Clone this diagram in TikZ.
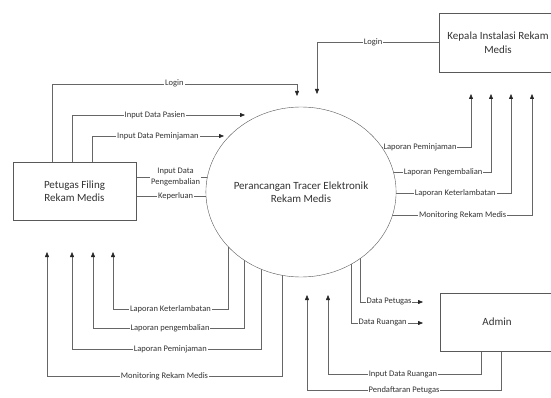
\documentclass[tikz,border=0pt]{standalone}
\usepackage{fontspec}
\setmainfont{Carlito}
\usetikzlibrary{shapes.geometric,arrows.meta,backgrounds}

\tikzset{
  entity/.style={draw=black!65, fill=white, text=black!80, align=center, inner sep=0pt,
    font=\fontsize{11}{13.5}\selectfont},
  flow/.style={draw=black!60, -{Triangle[length=5pt,width=4pt,color=black!85]}},
  lbl/.style={fill=white, text=black!80, inner sep=1pt, align=center,
    font=\fontsize{8.5}{10.5}\selectfont}
}

\begin{document}
\begin{tikzpicture}[x=1pt,y=-1pt]
  % Canvas (pixel grid of the reference, y downwards)
  \clip (0,0) rectangle (551,398);

  % Process and external entities
  \node[entity, ellipse, minimum width=152pt, minimum height=170pt] (proc) at (301,192)
    {Perancangan Tracer Elektronik\\Rekam Medis};
  \node[entity, minimum width=123pt, minimum height=58pt] (petugas) at (74.5,191)
    {Petugas Filing\\Rekam Medis};
  \node[entity, minimum width=118pt, minimum height=59pt] (kepala) at (498,42.5)
    {Kepala Instalasi Rekam\\Medis};
  \node[entity, minimum width=114pt, minimum height=58pt] (admin) at (497,322) {Admin};

  % Free ends of the flows (arrow tips)
  \coordinate (tLogP) at (297,96);
  \coordinate (tPasien) at (245,115);
  \coordinate (tPinjam) at (224,136);
  \coordinate (tKembali) at (215,177);
  \coordinate (tPerlu) at (215,196);
  \coordinate (tKetP) at (113,252);
  \coordinate (tKemP) at (93,252);
  \coordinate (tPinP) at (72,252);
  \coordinate (tMonP) at (47,252);
  \coordinate (tLogK) at (317,94);
  \coordinate (tPinK) at (471,94);
  \coordinate (tKemK) at (491,94);
  \coordinate (tKetK) at (511,94);
  \coordinate (tMonK) at (532,94);
  \coordinate (tDPet) at (423,302);
  \coordinate (tDRng) at (423,323);
  \coordinate (tIDR) at (328,295);
  \coordinate (tDaftar) at (307,295);

  \begin{pgfonlayer}{background}
    % Petugas Filing -> process
    \draw[flow] ([xshift=39pt]petugas.north west) -- ++(0,-78) -| node[lbl,pos=.25]{Login} (tLogP);
    \draw[flow] ([xshift=59pt]petugas.north west) |- node[lbl,pos=.74]{Input Data Pasien} (tPasien);
    \draw[flow] ([xshift=79pt]petugas.north west) |- node[lbl,pos=.75]{Input Data Peminjaman} (tPinjam);
    \draw[flow] (petugas.east |- tKembali) -- node[lbl]{Input Data\\Pengembalian} (tKembali);
    \draw[flow] (petugas.east |- tPerlu) -- node[lbl]{Keperluan} (tPerlu);

    % process -> Petugas Filing
    \draw[flow] ([xshift=-73pt]proc.center) -- ++(0,117) -| node[lbl,pos=.25]{Laporan Keterlambatan} (tKetP);
    \draw[flow] ([xshift=-57pt]proc.center) -- ++(0,136) -| node[lbl,pos=.245]{Laporan pengembalian} (tKemP);
    \draw[flow] ([xshift=-40pt]proc.center) -- ++(0,157) -| node[lbl,pos=.24]{Laporan Peminjaman} (tPinP);
    \draw[flow] ([xshift=-19pt]proc.center) -- ++(0,184) -| node[lbl,pos=.25]{Monitoring Rekam Medis} (tMonP);

    % Kepala Instalasi <-> process
    \draw[flow] (kepala.west) -| node[lbl,pos=.27]{Login} (tLogK);
    \draw[flow] ([yshift=45pt]proc.center) -| node[lbl,pos=.35]{Laporan Peminjaman} (tPinK);
    \draw[flow] ([yshift=20pt]proc.center) -| node[lbl,pos=.374]{Laporan Pengembalian} (tKemK);
    \draw[flow] ([yshift=-1pt]proc.center) -| node[lbl,pos=.367]{Laporan Keterlambatan} (tKetK);
    \draw[flow] ([yshift=-23pt]proc.center) -| node[lbl,pos=.35]{Monitoring Rekam Medis} (tMonK);

    % Admin <-> process
    \draw[flow] ([xshift=59pt]proc.center) |- node[lbl,pos=.73]{Data Petugas} (tDPet);
    \draw[flow] ([xshift=50pt]proc.center) |- node[lbl,pos=.72]{Data Ruangan} (tDRng);
    \draw[flow] ([xshift=-16pt]admin.south) -- ++(0,23) -| node[lbl,pos=.255]{Input Data Ruangan} (tIDR);
    \draw[flow] ([xshift=4pt]admin.south) -- ++(0,39) -| node[lbl,pos=.25]{Pendaftaran Petugas} (tDaftar);
  \end{pgfonlayer}
\end{tikzpicture}
\end{document}
